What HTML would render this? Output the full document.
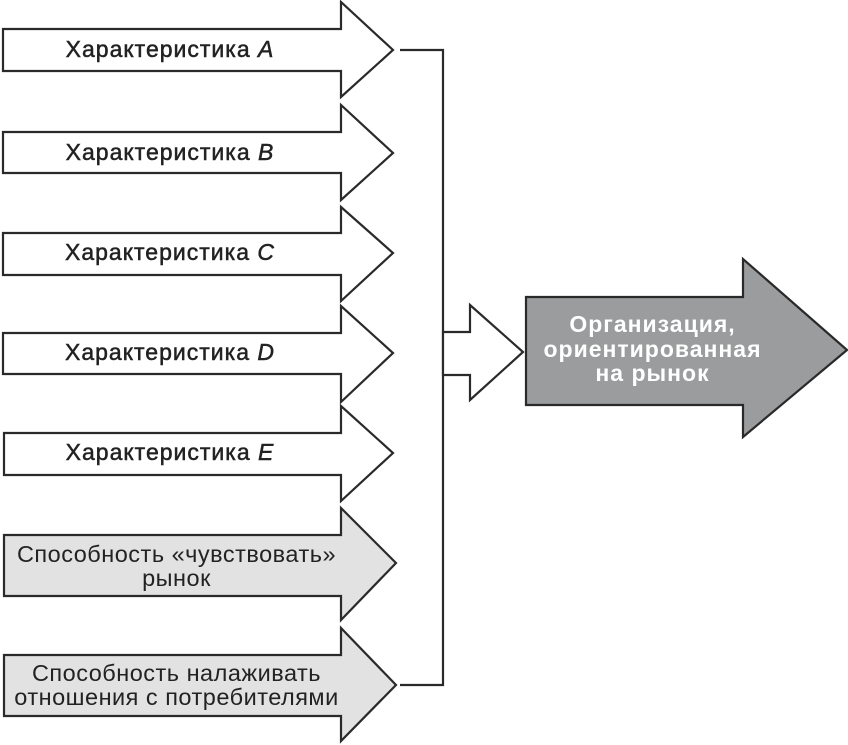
<!DOCTYPE html>
<html><head><meta charset="utf-8"><style>
html,body{margin:0;padding:0;background:#fff;}
body{position:relative;width:848px;height:745px;overflow:hidden;}
svg{display:block;position:absolute;left:0;top:0;}
.l{position:absolute;font-family:"Liberation Sans",Arial,sans-serif;color:#222;text-align:center;white-space:nowrap;}
.t{font-size:23px;letter-spacing:1px;-webkit-text-stroke:0.5px #222;left:0;width:340px;line-height:24px;}
.g{font-size:23.5px;letter-spacing:0.5px;left:4px;width:345px;line-height:24px;}
.w{font-size:23px;letter-spacing:1px;font-weight:bold;color:#fff;left:540px;width:225px;line-height:24.5px;}
i{font-style:italic;}
</style></head><body>
<svg width="848" height="745" viewBox="0 0 848 745" xmlns="http://www.w3.org/2000/svg">
<g stroke="#2a2a2a" stroke-width="2.2" stroke-linejoin="miter" fill="#fff">
<polygon points="3,29 341,29 341,2 393,50 341,97 341,71 3,71"/>
<polygon points="3,132 341,132 341,105 393,153 341,200 341,173 3,173"/>
<polygon points="3,233 341,233 341,207 393,253 341,301 341,275 3,275"/>
<polygon points="3,333 341,333 341,306 393,353 341,402 341,374 3,374"/>
<polygon points="4,433 341,433 341,406 393,453 341,501 341,475 4,475"/>
<polygon fill="#e2e2e2" points="4,535 341,535 341,508 396,563 341,620 341,596 4,596"/>
<polygon fill="#e2e2e2" points="4,655 341,655 341,628 396,685 341,741 341,716 4,716"/>
<polyline fill="none" points="400,50 443,50 443,685 400,685"/>
<polygon points="443,332 470,332 470,305 523,352 470,400 470,375 443,375"/>
<polygon fill="#9b9c9d" points="526,297 743,297 743,259 847,350 743,437 743,405 526,405"/>
</g>
</svg>
<div class="l t" style="top:37px">Характеристика <i>A</i></div>
<div class="l t" style="top:140px">Характеристика <i>B</i></div>
<div class="l t" style="top:240px">Характеристика <i>C</i></div>
<div class="l t" style="top:340px">Характеристика <i>D</i></div>
<div class="l t" style="top:440px">Характеристика <i>E</i></div>
<div class="l g" style="top:542px">Способность «чувствовать»<br>рынок</div>
<div class="l g" style="top:661px">Способность налаживать<br>отношения с потребителями</div>
<div class="l w" style="top:312px">Организация,<br>ориентированная<br>на рынок</div>
</body></html>
